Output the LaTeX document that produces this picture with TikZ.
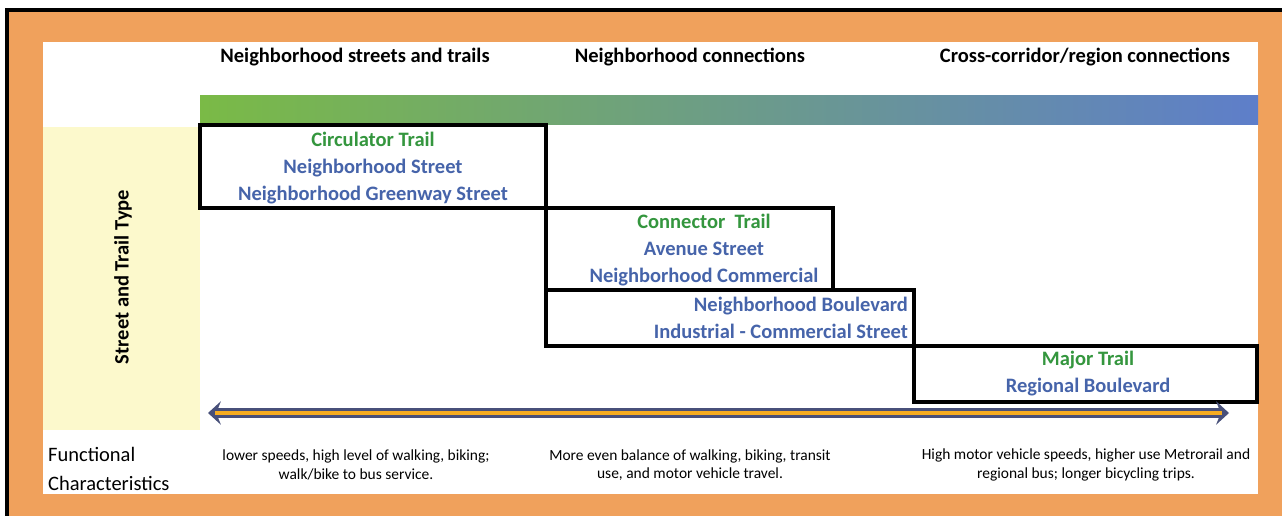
\documentclass[tikz,border=0pt]{standalone}
\usepackage{fontspec}
\setmainfont{Carlito}
\usetikzlibrary{arrows.meta}
\definecolor{frameorange}{RGB}{240,161,92}
\definecolor{paneyellow}{RGB}{252,249,204}
\definecolor{trailgreen}{RGB}{52,150,62}
\definecolor{streetblue}{RGB}{70,100,170}
\definecolor{arrowdark}{RGB}{72,80,122}
\definecolor{arrowgold}{RGB}{246,172,32}

\begin{document}
\begin{tikzpicture}[x=0.03cm,y=-0.03cm,
	header/.style={font=\bfseries\fontsize{17.5}{21}\selectfont},
	tier/.style={draw=black,line width=3pt},
	tiertext/.style={align=center,text=streetblue,font=\bfseries\fontsize{17.5}{23}\selectfont},
	role/.style={align=center,font=\fontsize{13.2}{16}\selectfont}]
	\useasboundingbox (0,0) rectangle (1282,516);
	% frame and panels
	\fill[frameorange] (7,10) rectangle (1282,516);
	\draw[line width=2.6pt] (7,516) -- (7,10) -- (1282,10);
	\fill[white] (43,42) rectangle (1258,494);
	\fill[paneyellow] (43,127) rectangle (200,430);
	\shade[left color={rgb,255:red,122;green,186;blue,70},
		middle color={rgb,255:red,104;green,160;blue,132},
		right color={rgb,255:red,94;green,126;blue,202}] (200,96) rectangle (1258,125);
	% column headers
	\node[header] (h1) at (355,57) {Neighborhood streets and trails};
	\node[header] (h2) at (690,57) {Neighborhood connections};
	\node[header] (h3) at (1085,57) {Cross-corridor/region connections};
	\node[header,rotate=90] (side) at (123,277) {Street and Trail Type};
	% street and trail types
	\draw[tier] (200,125) rectangle (546,208);
	\draw[tier] (546,208) rectangle (833,290);
	\draw[tier] (546,290) rectangle (914,346);
	\draw[tier] (914,346) rectangle (1257,402);
	\node[tiertext] (t1) at (373,168) {\textcolor{trailgreen}{Circulator Trail}\\Neighborhood Street\\Neighborhood Greenway Street};
	\node[tiertext] (t2) at (704,250) {\textcolor{trailgreen}{Connector\ \ Trail}\\Avenue Street\\Neighborhood Commercial};
	\node[tiertext,align=right,anchor=east] (t3) at (912,318) {Neighborhood Boulevard\\Industrial - Commercial Street};
	\node[tiertext] (t4) at (1088,374) {\textcolor{trailgreen}{Major Trail}\\Regional Boulevard};
	% range arrow
	\coordinate (lo) at (208,413);
	\coordinate (hi) at (1229,413);
	\draw[arrowdark,line width=8pt,{Stealth[length=11pt,width=20pt,inset=4pt]}-{Stealth[length=11pt,width=20pt,inset=4pt]}] (lo) -- (hi);
	\draw[arrowgold,line width=3pt,shorten <=6pt,shorten >=6pt] (lo) -- (hi);
	% functional characteristics
	\node[align=left,anchor=west,font=\fontsize{17.5}{24}\selectfont] (fc) at (44,469) {Functional\\Characteristics};
	\node[role] (r1) at (356,465) {lower speeds, high level of walking, biking;\\walk/bike to bus service.};
	\node[role] (r2) at (690,465) {More even balance of walking, biking, transit\\use, and motor vehicle travel.};
	\node[role] (r3) at (1086,465) {High motor vehicle speeds, higher use Metrorail and\\regional bus; longer bicycling trips.};
\end{tikzpicture}
\end{document}
